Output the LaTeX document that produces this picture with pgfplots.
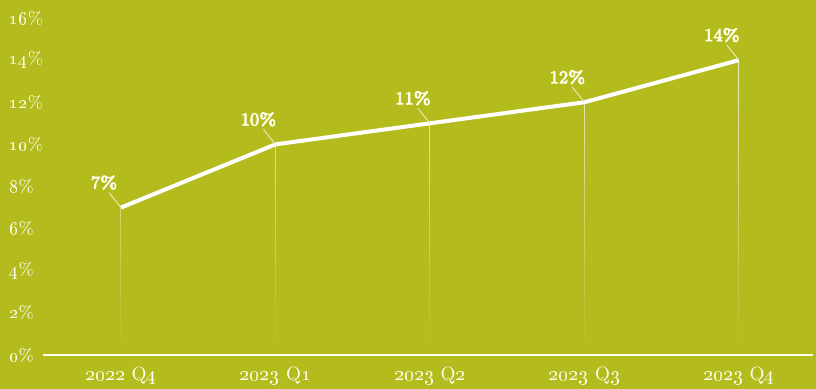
\documentclass[border=0pt]{standalone}
\usepackage{pgfplots}
\pgfplotsset{compat=1.18}
\usetikzlibrary{fadings}
\definecolor{bg}{RGB}{179,187,29}
\definecolor{txt}{RGB}{255,255,238}
\newcommand\fakebold[1]{\special{pdf:literal direct 2 Tr 0.35 w}#1\special{pdf:literal direct 0 Tr 0 w}}
\begin{document}
\begin{tikzpicture}
\fill[bg] (0,0) rectangle (408pt,194.5pt);
\path[use as bounding box] (0,0) rectangle (408pt,194.5pt);
\begin{axis}[
  at={(21.5pt,17pt)}, anchor=south west,
  scale only axis, width=385pt, height=168.5pt,
  xmin=-0.505, xmax=4.48, ymin=0, ymax=16,
  axis line style={draw=none}, clip=false,
  xtick={0,1,2,3,4},
  xticklabels={\oldstylenums{2022} Q\oldstylenums{4},\oldstylenums{2023} Q\oldstylenums{1},\oldstylenums{2023} Q\oldstylenums{2},\oldstylenums{2023} Q\oldstylenums{3},\oldstylenums{2023} Q\oldstylenums{4}},
  ytick={0,2,...,16},
  yticklabel={\oldstylenums{\pgfmathprintnumber[assume math mode=true]{\tick}}\%},
  tick style={draw=none},
  ticklabel style={text=txt},
  yticklabel style={font=\fontsize{8.8}{10}\selectfont, anchor=west, xshift=-20.3pt},
  xticklabel style={font=\fontsize{9.6}{11}\selectfont, anchor=center, yshift=-10.5pt},
]
\addplot[ycomb, draw=white, line width=0.5pt, opacity=0.75, path fading=south, mark=none] coordinates {(0,7) (1,10) (2,11) (3,12) (4,14)};
\draw[txt, line width=0.8pt] (axis cs:-0.505,0) -- (axis cs:4.48,0);
\addplot[white, line width=2pt, mark=none,
  nodes near coords={\fakebold{\textbf{\oldstylenums{\pgfmathprintnumber{\pgfplotspointmeta}}\%}}},
  every node near coord/.style={anchor=center, xshift=-8.5pt, yshift=12.5pt, font=\fontsize{8.6}{10}\selectfont, text=txt},
] coordinates {(0,7) (1,10) (2,11) (3,12) (4,14)};
\draw[txt!70!bg, line width=0.5pt] (axis cs:0,7) -- ++(-6pt,7.5pt);
\draw[txt!70!bg, line width=0.5pt] (axis cs:1,10) -- ++(-6pt,7.5pt);
\draw[txt!70!bg, line width=0.5pt] (axis cs:2,11) -- ++(-6pt,7.5pt);
\draw[txt!70!bg, line width=0.5pt] (axis cs:3,12) -- ++(-6pt,7.5pt);
\draw[txt!70!bg, line width=0.5pt] (axis cs:4,14) -- ++(-6pt,7.5pt);
\end{axis}
\end{tikzpicture}
\end{document}
